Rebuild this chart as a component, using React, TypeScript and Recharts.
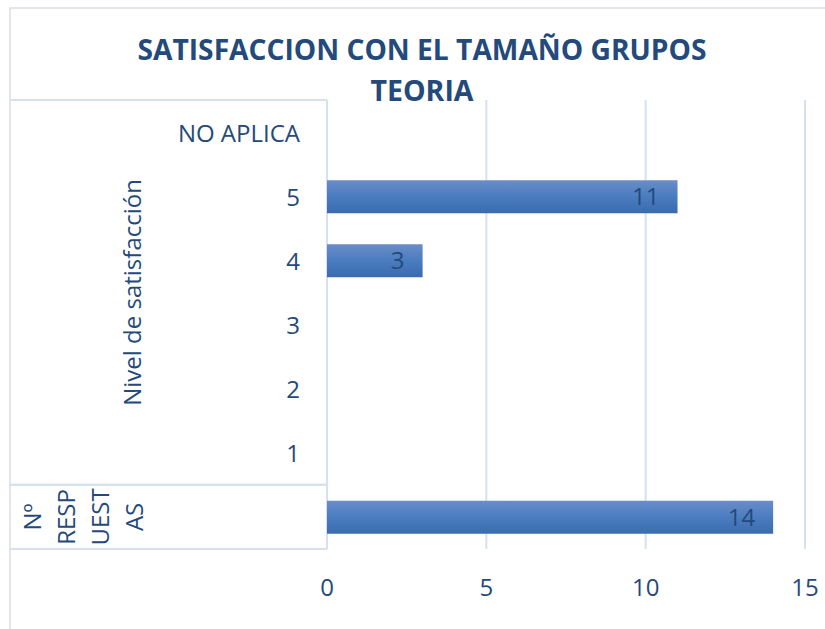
import React from "react";
import { BarChart, Bar, XAxis, YAxis, CartesianGrid, LabelList } from "recharts";

const categories = ["NO APLICA", "5", "4", "3", "2", "1", " "];
const counts: (number | null)[] = [null, 11, 3, null, null, null, 14];
const xTicks = [0, 5, 10, 15];
const groupSatisfaction = ["Nivel de satisfacción"];
const groupSatisfactionItems = ["NO APLICA", "5", "4", "3", "2", "1"];
const groupResponses = ["Nº", "RESP", "UEST", "AS"];
const groupResponsesItems = [" "];
const titleLines = ["SATISFACCION CON EL TAMAÑO GRUPOS", "TEORIA"];

const data = categories.map((c, i) => ({ cat: c, value: counts[i] }));

const W = 825;
const H = 629;
const FRAME_LEFT = 10;
const Y_AXIS_W = 327;
const TEXT = "#24497B";
const LINE = "#D5E0F0";
const FONT = "'Open Sans', sans-serif";

const YTick = (props: any) => {
  const { y, payload } = props;
  const value: string = payload.value;
  const half = payload.offset && payload.offset > 0 ? payload.offset : 32;
  const els: React.ReactNode[] = [];
  const groups = [
    { items: groupSatisfactionItems, kind: "sat" },
    { items: groupResponsesItems, kind: "resp" },
  ];
  groups.forEach((g) => {
    const idx = g.items.indexOf(value);
    if (idx < 0) return;
    const n = g.items.length;
    if (idx === 0) {
      els.push(
        <line key="top" x1={FRAME_LEFT} x2={Y_AXIS_W} y1={y - half} y2={y - half} stroke={LINE} strokeWidth={2} />
      );
      const cy = y + (n - 1) * half;
      if (g.kind === "sat") {
        els.push(
          <text key="g" x={132} y={cy} transform={`rotate(-90, 132, ${cy})`} textAnchor="middle" dominantBaseline="central" fill={TEXT} fontSize={24} fontFamily={FONT}>
            {groupSatisfaction[0]}
          </text>
        );
      } else {
        groupResponses.forEach((t, k) => {
          const gx = 32 + k * 33.7;
          els.push(
            <text key={"r" + k} x={gx} y={cy} transform={`rotate(-90, ${gx}, ${cy})`} textAnchor="middle" dominantBaseline="central" fill={TEXT} fontSize={24} fontFamily={FONT}>
              {t}
            </text>
          );
        });
      }
    }
    if (idx === n - 1) {
      els.push(
        <line key="bot" x1={FRAME_LEFT} x2={Y_AXIS_W} y1={y + half} y2={y + half} stroke={LINE} strokeWidth={2} />
      );
    }
  });
  return (
    <g>
      {els}
      <text x={300} y={y} textAnchor="end" dominantBaseline="central" fill={TEXT} fontSize={24} fontFamily={FONT}>
        {value}
      </text>
    </g>
  );
};

export default function App() {
  return (
    <div style={{ position: "absolute", left: 0, top: 0, width: W, height: H, background: "#fff" }}>
      <svg width={W} height={H} style={{ position: "absolute", left: 0, top: 0 }}>
        <rect x={FRAME_LEFT} y={8} width={W + 50} height={H + 50} fill="#fff" stroke="#D9DEE6" strokeWidth={1.5} />
        <text x={422} y={60} textAnchor="middle" fill={TEXT} fontSize={28} fontWeight={700} fontFamily={FONT} textLength={569} lengthAdjust="spacingAndGlyphs">
          {titleLines[0]}
        </text>
        <text x={422} y={101} textAnchor="middle" fill={TEXT} fontSize={28} fontWeight={700} fontFamily={FONT} textLength={103} lengthAdjust="spacingAndGlyphs">
          {titleLines[1]}
        </text>
      </svg>
      <div style={{ position: "absolute", left: 0, top: 0 }}>
        <BarChart width={W} height={H} data={data} layout="vertical" margin={{ top: 100, right: 20, bottom: 33, left: 0 }}>
          <defs>
            <linearGradient id="barGrad" x1="0" y1="0" x2="0" y2="1">
              <stop offset="0%" stopColor="#6A8DC8" />
              <stop offset="50%" stopColor="#4A7CC0" />
              <stop offset="100%" stopColor="#3A6BAE" />
            </linearGradient>
          </defs>
          <CartesianGrid horizontal={false} stroke={LINE} strokeWidth={2} />
          <XAxis
            type="number"
            domain={[0, 15]}
            ticks={xTicks}
            axisLine={false}
            tickLine={false}
            height={47}
            tickMargin={24}
            tick={{ fill: TEXT, fontSize: 24, fontFamily: FONT }}
          />
          <YAxis
            type="category"
            dataKey="cat"
            width={Y_AXIS_W}
            axisLine={false}
            tickLine={false}
            interval={0}
            tick={<YTick />}
          />
          <Bar dataKey="value" fill="url(#barGrad)" barSize={33} isAnimationActive={false}>
            <LabelList
              dataKey="value"
              position="insideRight"
              offset={18}
              fill={TEXT}
              fontSize={24}
              fontFamily={FONT}
              formatter={(v: any) => (v == null ? "" : v)}
            />
          </Bar>
        </BarChart>
      </div>
    </div>
  );
}
